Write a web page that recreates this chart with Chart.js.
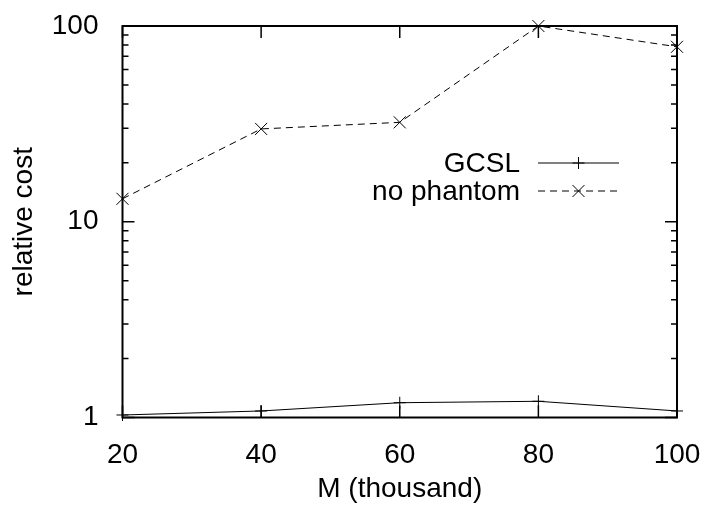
<!DOCTYPE html>
<html>
<head>
<meta charset="utf-8">
<script src="https://cdn.jsdelivr.net/npm/chart.js@4"></script>
<style>
  html, body { margin: 0; padding: 0; background: #fff; }
  canvas { display: block; }
</style>
</head>
<body>
<canvas id="costChart" width="704" height="506"></canvas>
<script>
const mValues = [20, 40, 60, 80, 100];
const gcslCost = [1.03, 1.08, 1.19, 1.21, 1.08];
const noPhantomCost = [13.1, 29.8, 32.2, 100, 78.3];
const yLabelValues = [1, 10, 100];

const FONT = "'Liberation Sans', Arial, sans-serif";
const FONT_SIZE = 28;

function toPoints(ys) {
  return mValues.map((x, i) => ({ x: x, y: ys[i] }));
}

// gnuplot-like frame with inward ticks on all four sides
const frameTicks = {
  id: "frameTicks",
  beforeDatasetsDraw(chart) {
    const { ctx, chartArea: a, scales } = chart;
    const major = 12, minor = 6;
    ctx.save();
    ctx.strokeStyle = "#000";
    ctx.lineWidth = 2;
    ctx.strokeRect(a.left, a.top, a.right - a.left, a.bottom - a.top);

    ctx.lineWidth = 1.5;
    ctx.beginPath();
    scales.x.ticks.forEach(t => {
      const px = scales.x.getPixelForValue(t.value);
      ctx.moveTo(px, a.bottom); ctx.lineTo(px, a.bottom - major);
      ctx.moveTo(px, a.top); ctx.lineTo(px, a.top + major);
    });
    for (let d = 0; d < 2; d++) {
      for (let k = 1; k <= 10; k++) {
        const v = k * Math.pow(10, d);
        const py = scales.y.getPixelForValue(v);
        const len = (k === 1 || k === 10) ? major : minor;
        ctx.moveTo(a.left, py); ctx.lineTo(a.left + len, py);
        ctx.moveTo(a.right, py); ctx.lineTo(a.right - len, py);
      }
    }
    ctx.stroke();
    ctx.restore();
  }
};

// legend inside the plot: label on the left, line sample on the right
const keyBox = {
  id: "keyBox",
  afterDatasetsDraw(chart) {
    const { ctx, chartArea: a } = chart;
    const sampleEnd = a.right - 58;
    const sampleStart = sampleEnd - 81;
    const textRight = sampleStart - 18;
    const rows = [a.top + 137, a.top + 165];
    ctx.save();
    ctx.font = FONT_SIZE + "px " + FONT;
    ctx.fillStyle = "#000";
    ctx.textAlign = "right";
    ctx.textBaseline = "middle";
    chart.data.datasets.forEach((ds, i) => {
      const y = rows[i];
      ctx.fillText(ds.label, textRight, y + 1);
      ctx.strokeStyle = ds.borderColor;
      ctx.lineWidth = 1;
      ctx.setLineDash(ds.borderDash || []);
      ctx.beginPath();
      ctx.moveTo(sampleStart, y);
      ctx.lineTo(sampleEnd, y);
      ctx.stroke();
      ctx.setLineDash([]);
      Chart.helpers.drawPoint(ctx, {
        pointStyle: ds.pointStyle,
        radius: ds.pointRadius,
        rotation: 0,
        borderWidth: 1
      }, (sampleStart + sampleEnd) / 2, y);
    });
    ctx.restore();
  }
};

new Chart(document.getElementById("costChart"), {
  type: "line",
  data: {
    datasets: [
      {
        label: "GCSL",
        data: toPoints(gcslCost),
        borderColor: "#000",
        borderWidth: 1,
        pointStyle: "cross",
        pointRadius: 6,
        pointBorderColor: "#000",
        pointBorderWidth: 1,
        fill: false,
        tension: 0,
        clip: false
      },
      {
        label: "no phantom",
        data: toPoints(noPhantomCost),
        borderColor: "#000",
        borderWidth: 1,
        borderDash: [7, 5],
        pointStyle: "crossRot",
        pointRadius: 8.5,
        pointBorderColor: "#000",
        pointBorderWidth: 1,
        fill: false,
        tension: 0,
        clip: false
      }
    ]
  },
  options: {
    responsive: false,
    animation: false,
    events: [],
    layout: { padding: { left: 0, right: 27, top: 26, bottom: 0 } },
    plugins: {
      legend: { display: false },
      tooltip: { enabled: false }
    },
    scales: {
      x: {
        type: "linear",
        min: 20,
        max: 100,
        afterFit: s => {
          s.height = 88.5;
          s.paddingLeft = 0;
          s.paddingRight = 0;
        },
        grid: { display: false },
        border: { display: false },
        ticks: {
          stepSize: 20,
          padding: 13,
          color: "#000",
          font: { family: FONT, size: FONT_SIZE }
        },
        title: {
          display: true,
          text: "M (thousand)",
          color: "#000",
          padding: { top: 0, bottom: 0 },
          font: { family: FONT, size: FONT_SIZE }
        }
      },
      y: {
        type: "logarithmic",
        min: 1,
        max: 100,
        afterFit: s => {
          s.width = 122.5;
          s.paddingTop = 0;
          s.paddingBottom = 0;
        },
        grid: { display: false },
        border: { display: false },
        afterBuildTicks: s => {
          s.ticks = yLabelValues.map(v => ({ value: v }));
        },
        ticks: {
          autoSkip: false,
          padding: 16,
          color: "#000",
          font: { family: FONT, size: FONT_SIZE },
          callback: v => String(v)
        },
        title: {
          display: true,
          text: "relative cost",
          color: "#000",
          padding: { top: 7, bottom: 0 },
          font: { family: FONT, size: FONT_SIZE }
        }
      }
    }
  },
  plugins: [frameTicks, keyBox]
});
</script>
</body>
</html>
